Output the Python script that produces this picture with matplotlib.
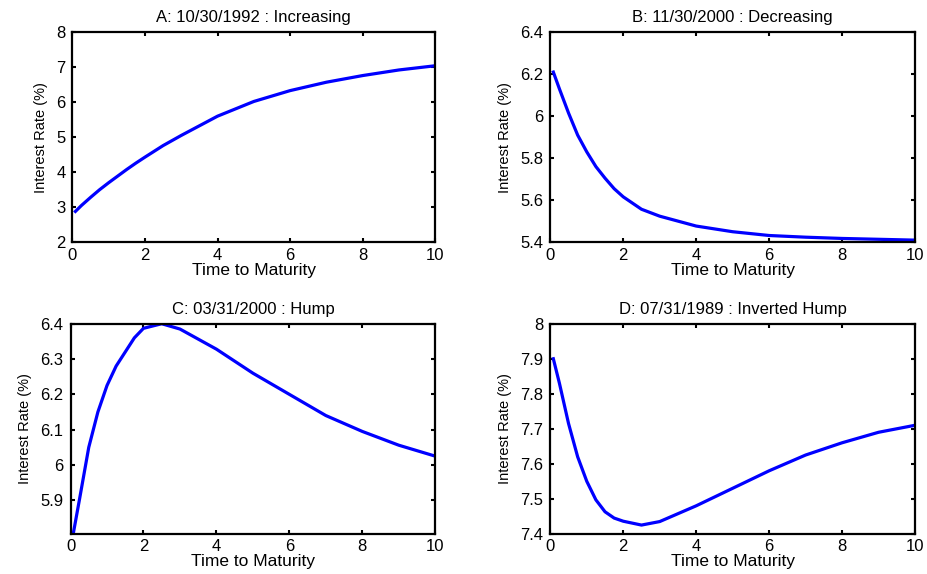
import matplotlib
matplotlib.use('Agg')
import matplotlib.pyplot as plt

plt.rcParams['font.family'] = ['Liberation Sans', 'DejaVu Sans']

# maturities (years)
maturity = [0.083, 0.25, 0.5, 0.75, 1, 1.25, 1.5, 1.75, 2, 2.5, 3, 4, 5, 6, 7, 8, 9, 10]

# yield curves
rate_a = [2.88, 3.05, 3.28, 3.50, 3.70, 3.89, 4.08, 4.26, 4.43, 4.76, 5.05, 5.60,
          6.02, 6.33, 6.57, 6.76, 6.92, 7.04]
rate_b = [6.21, 6.13, 6.015, 5.91, 5.83, 5.76, 5.705, 5.655, 5.616, 5.557, 5.524, 5.477,
          5.45, 5.432, 5.424, 5.418, 5.414, 5.41]
rate_c = [5.81, 5.905, 6.05, 6.15, 6.225, 6.28, 6.32, 6.36, 6.387, 6.40, 6.385, 6.328,
          6.26, 6.20, 6.14, 6.095, 6.056, 6.025]
rate_d = [7.90, 7.83, 7.715, 7.62, 7.55, 7.497, 7.463, 7.445, 7.436, 7.425, 7.435, 7.48,
          7.53, 7.58, 7.625, 7.66, 7.69, 7.71]

titles = ['A: 10/30/1992 : Increasing', 'B: 11/30/2000 : Decreasing',
          'C: 03/31/2000 : Hump', 'D: 07/31/1989 : Inverted Hump']
ylims = [(2, 8), (5.4, 6.4), (5.805, 6.4), (7.4, 8)]
yticks = [[2, 3, 4, 5, 6, 7, 8],
          [5.4, 5.6, 5.8, 6, 6.2, 6.4],
          [5.9, 6, 6.1, 6.2, 6.3, 6.4],
          [7.4, 7.5, 7.6, 7.7, 7.8, 7.9, 8]]
ytick_labels = [['2', '3', '4', '5', '6', '7', '8'],
                ['5.4', '5.6', '5.8', '6', '6.2', '6.4'],
                ['5.9', '6', '6.1', '6.2', '6.3', '6.4'],
                ['7.4', '7.5', '7.6', '7.7', '7.8', '7.9', '8']]
series = [rate_a, rate_b, rate_c, rate_d]

fig = plt.figure(figsize=(9.28, 5.74), dpi=100)
positions = [[0.078, 0.578, 0.391, 0.366],
             [0.593, 0.578, 0.393, 0.366],
             [0.076, 0.070, 0.393, 0.366],
             [0.593, 0.070, 0.393, 0.366]]

for i in range(4):
    ax = fig.add_axes(positions[i])
    ax.plot(maturity, series[i], color='#0000ff', lw=2.3)
    ax.set_xlim(0, 10)
    ax.set_ylim(*ylims[i])
    ax.set_xticks([0, 2, 4, 6, 8, 10])
    ax.set_yticks(yticks[i])
    ax.set_yticklabels(ytick_labels[i])
    ax.tick_params(direction='in', top=True, right=True, length=3, width=1.5,
                   labelsize=12, colors='black')
    ax.tick_params(axis='y', pad=5)
    ax.tick_params(axis='x', pad=4)
    for s in ax.spines.values():
        s.set_linewidth(1.6)
    ax.set_title(titles[i], fontsize=12, pad=7)
    ax.set_xlabel('Time to Maturity', fontsize=12.5, labelpad=0)
    ax.set_ylabel('Interest Rate (%)', fontsize=10.5, labelpad=6)

fig.savefig('out.png', dpi=100)
